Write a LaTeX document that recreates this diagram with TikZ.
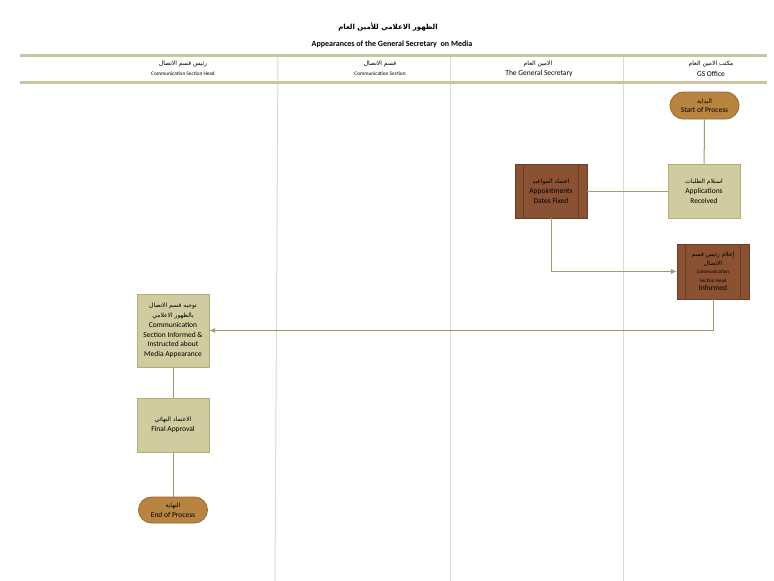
\documentclass[tikz,border=0pt]{standalone}
\usepackage{fontspec}
\setmainfont{Carlito}
\newfontfamily\arabicfont[Script=Arabic]{DejaVu Sans}
\TeXXeTstate=1
\usetikzlibrary{arrows.meta,shapes.misc}
\newcommand\artxt[1]{{\arabicfont\beginR #1\endR}}
\definecolor{startfill}{HTML}{B8843F}
\definecolor{startdraw}{HTML}{9A6A2E}
\definecolor{lightfill}{HTML}{D0CCA0}
\definecolor{lightdraw}{HTML}{B3AD78}
\definecolor{darkfill}{HTML}{8A5233}
\definecolor{darkdraw}{HTML}{6B3E26}
\definecolor{conn}{HTML}{A09B68}
\definecolor{hdrline}{HTML}{C9C5A2}
\definecolor{laneline}{HTML}{DADADA}
\tikzset{
  terminal/.style={rounded rectangle, fill=startfill, draw=startdraw, line width=0.8pt, minimum width=71pt, minimum height=27pt, inner sep=1pt, align=center, font=\fontsize{7.5}{9.5}\selectfont},
  lightbox/.style={rectangle, fill=lightfill, draw=lightdraw, line width=1pt, minimum width=72pt, inner sep=1pt, align=center, font=\fontsize{7.5}{9.8}\selectfont},
  darkbox/.style={rectangle, fill=darkfill, draw=darkdraw, line width=0.6pt, minimum width=72pt, inner sep=1pt, align=center, font=\fontsize{7.5}{9.8}\selectfont},
  link/.style={draw=conn, line width=1pt},
  arrowlink/.style={link, -{Latex[length=5.5pt,width=5pt]}},
  hdr/.style={align=center, inner sep=0pt},
}
\begin{document}
\begin{tikzpicture}[x=1pt,y=-1pt]
\useasboundingbox[fill=white] (0,0) rectangle (774,581);
% title
\node[hdr, font=\fontsize{7}{8}\selectfont\bfseries] (t1) at (388,27) {\artxt{الظهور الاعلامي للأمين العام}};
\node[hdr, font=\fontsize{8}{9}\selectfont\bfseries] (t2) at (392,44) {Appearances of the General Secretary\ \ on Media};
% lane lines
\draw[laneline, line width=1pt] (278,55) -- (275,581);
\draw[laneline, line width=1pt] (450,55) -- (450,581);
\draw[laneline, line width=1pt] (623,55) -- (623,581);
% header lines
\draw[hdrline, line width=2.4pt] (20,55.5) -- (767,55.5);
\draw[hdrline, line width=2.4pt] (20,82.5) -- (767,82.5);
% lane headers
\node[hdr, font=\fontsize{6}{7}\selectfont] (h1a) at (183,63.5) {\artxt{رئيس قسم الاتصال}};
\node[hdr, font=\fontsize{5.3}{6}\selectfont] (h1b) at (183,74) {Communication Section Head};
\node[hdr, font=\fontsize{6}{7}\selectfont] (h2a) at (380,63.5) {\artxt{قسم الاتصال}};
\node[hdr, font=\fontsize{5.3}{6}\selectfont] (h2b) at (380,74) {Communication Section};
\node[hdr, font=\fontsize{6}{7}\selectfont] (h3a) at (538,63.5) {\artxt{الامين العام}};
\node[hdr, font=\fontsize{7.5}{8}\selectfont] (h3b) at (539,73.5) {The General Secretary};
\node[hdr, font=\fontsize{6}{7}\selectfont] (h4a) at (711,63.5) {\artxt{مكتب الامين العام}};
\node[hdr, font=\fontsize{7.5}{8}\selectfont] (h4b) at (711,73.5) {GS Office};
% nodes
\node[terminal] (start) at (704.5,105.5) {{\fontsize{6}{7}\selectfont\artxt{البداية}}\\Start of Process};
\node[lightbox, minimum height=54pt] (apps) at (704,191) {{\fontsize{6}{7.5}\selectfont\artxt{استلام الطلبات}}\\Applications\\Received};
\node[darkbox, minimum height=54pt] (appt) at (551,191) {{\fontsize{6}{7.5}\selectfont\artxt{اعتماد المواعيد}}\\Appointments\\Dates Fixed};
\draw[darkdraw, line width=0.6pt] ([xshift=9pt]appt.north west) -- ([xshift=9pt]appt.south west);
\draw[darkdraw, line width=0.6pt] ([xshift=-9pt]appt.north east) -- ([xshift=-9pt]appt.south east);
\node[darkbox, minimum height=55pt, font=\fontsize{7.5}{8.5}\selectfont] (inf) at (713,271.5) {{\fontsize{6}{8}\selectfont\artxt{إعلام رئيس قسم}}\\{\fontsize{6}{8}\selectfont\artxt{الاتصال}}\\{\fontsize{5}{6.5}\selectfont Communication}\\{\fontsize{5}{6.5}\selectfont Section Head}\\Informed};
\draw[darkdraw, line width=0.6pt] ([xshift=9pt]inf.north west) -- ([xshift=9pt]inf.south west);
\draw[darkdraw, line width=0.6pt] ([xshift=-9pt]inf.north east) -- ([xshift=-9pt]inf.south east);
\node[lightbox, minimum height=73pt] (comm) at (173,330.5) {{\fontsize{6}{8}\selectfont\artxt{توجيه قسم الاتصال}}\\{\fontsize{6}{8}\selectfont\artxt{بالظهور الاعلامي}}\\Communication\\Section Informed \&\\Instructed about\\Media Appearance};
\node[lightbox, minimum height=54pt] (final) at (173,425) {{\fontsize{6}{7.5}\selectfont\artxt{الاعتماد النهائي}}\\Final Approval};
\node[terminal, minimum height=26pt] (end) at (173,510) {{\fontsize{6}{7}\selectfont\artxt{النهاية}}\\End of Process};
% connectors
\draw[link] (start) -- (apps);
\draw[link] (apps) -- (appt);
\draw[arrowlink] (appt.south) |- (inf.west);
\draw[arrowlink] (inf.south) |- (comm.east);
\draw[link] (comm) -- (final);
\draw[link] (final) -- (end);
\end{tikzpicture}
\end{document}
